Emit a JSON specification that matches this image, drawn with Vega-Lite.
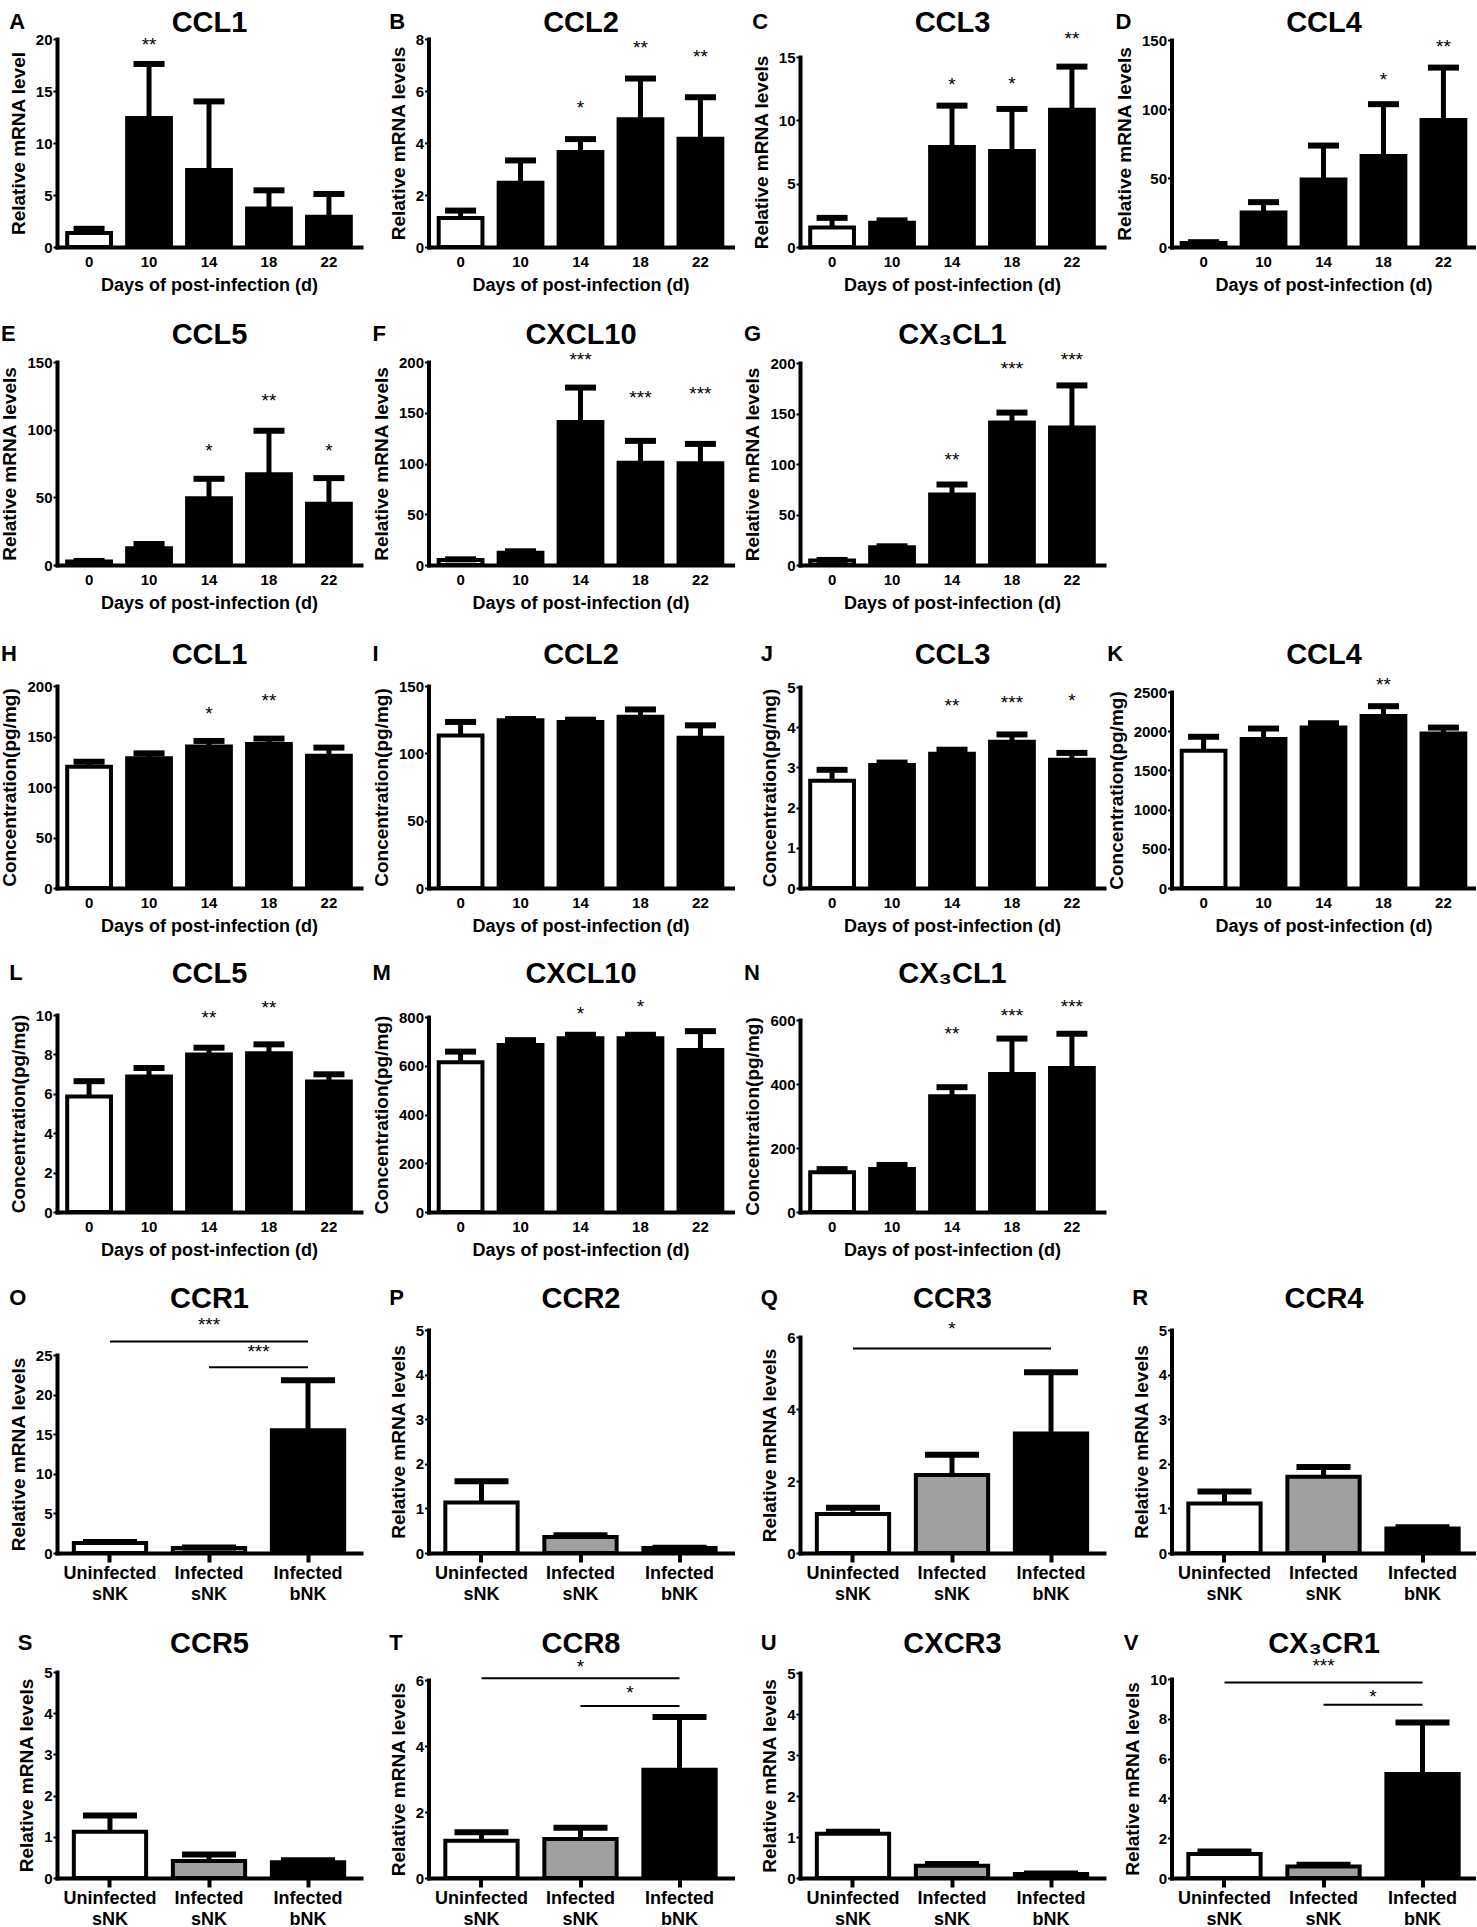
{
  "$schema": "https://vega.github.io/schema/vega-lite/v6.json",
  "background": "white",
  "padding": {"left": 0, "top": 8, "right": 0, "bottom": 0},
  "datasets": {
    "bars": [
      {"p": "A", "x": "0", "v": 1.35, "hi": 1.75, "g": "c"},
      {"p": "A", "x": "10", "v": 12.4, "hi": 17.6, "g": "b", "sig": "**", "sy": 19.45},
      {"p": "A", "x": "14", "v": 7.4, "hi": 14.0, "g": "b"},
      {"p": "A", "x": "18", "v": 3.7, "hi": 5.45, "g": "b"},
      {"p": "A", "x": "22", "v": 2.9, "hi": 5.1, "g": "b"},
      {"p": "B", "x": "0", "v": 1.12, "hi": 1.4, "g": "c"},
      {"p": "B", "x": "10", "v": 2.47, "hi": 3.33, "g": "b"},
      {"p": "B", "x": "14", "v": 3.65, "hi": 4.15, "g": "b", "sig": "*", "sy": 5.34},
      {"p": "B", "x": "18", "v": 4.91, "hi": 6.48, "g": "b", "sig": "**", "sy": 7.65},
      {"p": "B", "x": "22", "v": 4.16, "hi": 5.76, "g": "b", "sig": "**", "sy": 7.3},
      {"p": "C", "x": "0", "v": 1.53, "hi": 2.3, "g": "c"},
      {"p": "C", "x": "10", "v": 1.92, "hi": 2.1, "g": "b"},
      {"p": "C", "x": "14", "v": 7.9, "hi": 11.16, "g": "b", "sig": "*", "sy": 12.76},
      {"p": "C", "x": "18", "v": 7.58, "hi": 10.9, "g": "b", "sig": "*", "sy": 12.9},
      {"p": "C", "x": "22", "v": 10.84, "hi": 14.24, "g": "b", "sig": "**", "sy": 16.45},
      {"p": "D", "x": "0", "v": 2.95, "hi": 3.5, "g": "c"},
      {"p": "D", "x": "10", "v": 25, "hi": 32.5, "g": "b"},
      {"p": "D", "x": "14", "v": 49, "hi": 73.5, "g": "b"},
      {"p": "D", "x": "18", "v": 66, "hi": 103.5, "g": "b", "sig": "*", "sy": 121},
      {"p": "D", "x": "22", "v": 92, "hi": 130, "g": "b", "sig": "**", "sy": 145},
      {"p": "E", "x": "0", "v": 2.5, "hi": 3, "g": "c"},
      {"p": "E", "x": "10", "v": 12.3, "hi": 15.5, "g": "b"},
      {"p": "E", "x": "14", "v": 49.3, "hi": 63.7, "g": "b", "sig": "*", "sy": 84.6},
      {"p": "E", "x": "18", "v": 67.1, "hi": 99.2, "g": "b", "sig": "**", "sy": 120.9},
      {"p": "E", "x": "22", "v": 45.2, "hi": 64.2, "g": "b", "sig": "*", "sy": 84.6},
      {"p": "F", "x": "0", "v": 4.9, "hi": 5.6, "g": "c"},
      {"p": "F", "x": "10", "v": 12, "hi": 13.5, "g": "b"},
      {"p": "F", "x": "14", "v": 140.8, "hi": 174.8, "g": "b", "sig": "***", "sy": 201.6},
      {"p": "F", "x": "18", "v": 100.8, "hi": 122.3, "g": "b", "sig": "***", "sy": 164.9},
      {"p": "F", "x": "22", "v": 100.2, "hi": 119.3, "g": "b", "sig": "***", "sy": 168},
      {"p": "G", "x": "0", "v": 4.4, "hi": 5, "g": "c"},
      {"p": "G", "x": "10", "v": 17.5, "hi": 18.5, "g": "b"},
      {"p": "G", "x": "14", "v": 69.9, "hi": 79.7, "g": "b", "sig": "**", "sy": 103.5},
      {"p": "G", "x": "18", "v": 141.2, "hi": 150.9, "g": "b", "sig": "***", "sy": 194.3},
      {"p": "G", "x": "22", "v": 136.1, "hi": 177.8, "g": "b", "sig": "***", "sy": 203.4},
      {"p": "H", "x": "0", "v": 120, "hi": 125, "g": "c"},
      {"p": "H", "x": "10", "v": 128.4, "hi": 133.3, "g": "b"},
      {"p": "H", "x": "14", "v": 140, "hi": 145.6, "g": "b", "sig": "*", "sy": 171.8},
      {"p": "H", "x": "18", "v": 142.6, "hi": 147.9, "g": "b", "sig": "**", "sy": 185},
      {"p": "H", "x": "22", "v": 131, "hi": 139, "g": "b"},
      {"p": "I", "x": "0", "v": 113.2, "hi": 123.3, "g": "c"},
      {"p": "I", "x": "10", "v": 124.6, "hi": 125.5, "g": "b"},
      {"p": "I", "x": "14", "v": 123.3, "hi": 125, "g": "b"},
      {"p": "I", "x": "18", "v": 127.1, "hi": 132.6, "g": "b"},
      {"p": "I", "x": "22", "v": 111.5, "hi": 120.8, "g": "b"},
      {"p": "J", "x": "0", "v": 2.67, "hi": 2.94, "g": "c"},
      {"p": "J", "x": "10", "v": 3.06, "hi": 3.12, "g": "b"},
      {"p": "J", "x": "14", "v": 3.34, "hi": 3.44, "g": "b", "sig": "**", "sy": 4.53},
      {"p": "J", "x": "18", "v": 3.64, "hi": 3.82, "g": "b", "sig": "***", "sy": 4.59},
      {"p": "J", "x": "22", "v": 3.19, "hi": 3.36, "g": "b", "sig": "*", "sy": 4.65},
      {"p": "K", "x": "0", "v": 1752, "hi": 1929, "g": "c"},
      {"p": "K", "x": "10", "v": 1899, "hi": 2034, "g": "b"},
      {"p": "K", "x": "14", "v": 2046, "hi": 2101, "g": "b"},
      {"p": "K", "x": "18", "v": 2193, "hi": 2319, "g": "b", "sig": "**", "sy": 2584},
      {"p": "K", "x": "22", "v": 1970, "hi": 2046, "g": "b"},
      {"p": "L", "x": "0", "v": 5.86, "hi": 6.64, "g": "c"},
      {"p": "L", "x": "10", "v": 6.88, "hi": 7.31, "g": "b"},
      {"p": "L", "x": "14", "v": 8.0, "hi": 8.34, "g": "b", "sig": "**", "sy": 9.86},
      {"p": "L", "x": "18", "v": 8.06, "hi": 8.51, "g": "b", "sig": "**", "sy": 10.37},
      {"p": "L", "x": "22", "v": 6.62, "hi": 6.99, "g": "b"},
      {"p": "M", "x": "0", "v": 614, "hi": 658, "g": "c"},
      {"p": "M", "x": "10", "v": 685, "hi": 705, "g": "b"},
      {"p": "M", "x": "14", "v": 713, "hi": 727, "g": "b", "sig": "*", "sy": 814},
      {"p": "M", "x": "18", "v": 713, "hi": 727, "g": "b", "sig": "*", "sy": 841},
      {"p": "M", "x": "22", "v": 665, "hi": 742, "g": "b"},
      {"p": "N", "x": "0", "v": 124, "hi": 134, "g": "c"},
      {"p": "N", "x": "10", "v": 134, "hi": 147, "g": "b"},
      {"p": "N", "x": "14", "v": 362, "hi": 390, "g": "b", "sig": "**", "sy": 555},
      {"p": "N", "x": "18", "v": 431, "hi": 542, "g": "b", "sig": "***", "sy": 613},
      {"p": "N", "x": "22", "v": 450, "hi": 557, "g": "b", "sig": "***", "sy": 641},
      {"p": "O", "x": "Uninfected sNK", "v": 1.25, "hi": 1.4, "g": "c"},
      {"p": "O", "x": "Infected sNK", "v": 0.62, "hi": 0.7, "g": "s"},
      {"p": "O", "x": "Infected bNK", "v": 15.5, "hi": 21.8, "g": "b"},
      {"p": "P", "x": "Uninfected sNK", "v": 1.13, "hi": 1.61, "g": "c"},
      {"p": "P", "x": "Infected sNK", "v": 0.36, "hi": 0.4, "g": "s"},
      {"p": "P", "x": "Infected bNK", "v": 0.11, "hi": 0.12, "g": "b"},
      {"p": "Q", "x": "Uninfected sNK", "v": 1.08, "hi": 1.26, "g": "c"},
      {"p": "Q", "x": "Infected sNK", "v": 2.17, "hi": 2.73, "g": "s"},
      {"p": "Q", "x": "Infected bNK", "v": 3.32, "hi": 5.02, "g": "b"},
      {"p": "R", "x": "Uninfected sNK", "v": 1.11, "hi": 1.38, "g": "c"},
      {"p": "R", "x": "Infected sNK", "v": 1.71, "hi": 1.93, "g": "s"},
      {"p": "R", "x": "Infected bNK", "v": 0.55, "hi": 0.58, "g": "b"},
      {"p": "S", "x": "Uninfected sNK", "v": 1.12, "hi": 1.52, "g": "c"},
      {"p": "S", "x": "Infected sNK", "v": 0.41, "hi": 0.57, "g": "s"},
      {"p": "S", "x": "Infected bNK", "v": 0.38, "hi": 0.43, "g": "b"},
      {"p": "T", "x": "Uninfected sNK", "v": 1.13, "hi": 1.39, "g": "c"},
      {"p": "T", "x": "Infected sNK", "v": 1.18, "hi": 1.52, "g": "s"},
      {"p": "T", "x": "Infected bNK", "v": 3.28, "hi": 4.88, "g": "b"},
      {"p": "U", "x": "Uninfected sNK", "v": 1.08, "hi": 1.13, "g": "c"},
      {"p": "U", "x": "Infected sNK", "v": 0.3, "hi": 0.34, "g": "s"},
      {"p": "U", "x": "Infected bNK", "v": 0.1, "hi": 0.11, "g": "b"},
      {"p": "V", "x": "Uninfected sNK", "v": 1.2, "hi": 1.33, "g": "c"},
      {"p": "V", "x": "Infected sNK", "v": 0.58, "hi": 0.66, "g": "s"},
      {"p": "V", "x": "Infected bNK", "v": 5.22, "hi": 7.82, "g": "b"}
    ],
    "cmp": [
      {"p": "O", "from": "Uninfected sNK", "to": "Infected bNK", "ly": 26.7, "sig": "***", "sy": 28.75},
      {"p": "O", "from": "Infected sNK", "to": "Infected bNK", "ly": 23.45, "sig": "***", "sy": 25.4},
      {"p": "Q", "from": "Uninfected sNK", "to": "Infected bNK", "ly": 5.68, "sig": "*", "sy": 6.23},
      {"p": "T", "from": "Uninfected sNK", "to": "Infected bNK", "ly": 6.05, "sig": "*", "sy": 6.4},
      {"p": "T", "from": "Infected sNK", "to": "Infected bNK", "ly": 5.21, "sig": "*", "sy": 5.6},
      {"p": "V", "from": "Uninfected sNK", "to": "Infected bNK", "ly": 9.83, "sig": "***", "sy": 10.67},
      {"p": "V", "from": "Infected sNK", "to": "Infected bNK", "ly": 8.7, "sig": "*", "sy": 9.08}
    ]
  },
  "columns": 4,
  "spacing": {"row": 115, "column": 67.5},
  "bounds": "flush",
  "concat": [
    {
      "title": "A", "width": 304, "height": 208,
      "data": {"name": "bars"}, "transform": [{"filter": "datum.p == 'A'"}],
      "encoding": {
        "x": {"field": "x", "type": "ordinal", "axis": null, "scale": {"domain": ["0", "10", "14", "18", "22"], "paddingInner": 0.27, "paddingOuter": 0.17}},
        "y": {"field": "v", "type": "quantitative", "title": "Relative mRNA level", "scale": {"domain": [0, 20], "range": [208, 0], "nice": false}, "axis": {"values": [0, 5, 10, 15, 20]}}
      },
      "layer": [
        {"mark": {"type": "bar", "stroke": "black", "strokeWidth": 4}, "encoding": {"x": {"field": "x", "type": "ordinal", "axis": {"title": "Days of post-infection (d)"}}, "fill": {"field": "g", "type": "nominal", "scale": {"domain": ["c", "s", "b"], "range": ["#ffffff", "#a0a0a0", "#000000"]}, "legend": null}}},
        {"mark": {"type": "rule", "strokeWidth": 5, "color": "black"}, "encoding": {"x": {"field": "x", "type": "ordinal", "axis": {"orient": "top", "labels": false, "ticks": false, "domain": false, "title": "CCL1", "titleFontSize": 29, "titlePadding": 2}}, "y2": {"field": "hi"}}},
        {"mark": {"type": "tick", "size": 31, "thickness": 6, "color": "black", "opacity": 1}, "encoding": {"y": {"field": "hi", "type": "quantitative", "title": "Relative mRNA level"}}},
        {"transform": [{"filter": "isValid(datum.sig)"}], "mark": {"type": "text", "fontSize": 19}, "encoding": {"y": {"field": "sy", "type": "quantitative", "title": "Relative mRNA level"}, "text": {"field": "sig"}}}
      ],
      "resolve": {"axis": {"x": "independent"}}
    },
    {
      "title": "B", "width": 304, "height": 208,
      "data": {"name": "bars"}, "transform": [{"filter": "datum.p == 'B'"}],
      "encoding": {
        "x": {"field": "x", "type": "ordinal", "axis": null, "scale": {"domain": ["0", "10", "14", "18", "22"], "paddingInner": 0.27, "paddingOuter": 0.17}},
        "y": {"field": "v", "type": "quantitative", "title": "Relative mRNA levels", "scale": {"domain": [0, 8], "range": [208, 0], "nice": false}, "axis": {"values": [0, 2, 4, 6, 8]}}
      },
      "layer": [
        {"mark": {"type": "bar", "stroke": "black", "strokeWidth": 4}, "encoding": {"x": {"field": "x", "type": "ordinal", "axis": {"title": "Days of post-infection (d)"}}, "fill": {"field": "g", "type": "nominal", "scale": {"domain": ["c", "s", "b"], "range": ["#ffffff", "#a0a0a0", "#000000"]}, "legend": null}}},
        {"mark": {"type": "rule", "strokeWidth": 5, "color": "black"}, "encoding": {"x": {"field": "x", "type": "ordinal", "axis": {"orient": "top", "labels": false, "ticks": false, "domain": false, "title": "CCL2", "titleFontSize": 29, "titlePadding": 2}}, "y2": {"field": "hi"}}},
        {"mark": {"type": "tick", "size": 31, "thickness": 6, "color": "black", "opacity": 1}, "encoding": {"y": {"field": "hi", "type": "quantitative", "title": "Relative mRNA levels"}}},
        {"transform": [{"filter": "isValid(datum.sig)"}], "mark": {"type": "text", "fontSize": 19}, "encoding": {"y": {"field": "sy", "type": "quantitative", "title": "Relative mRNA levels"}, "text": {"field": "sig"}}}
      ],
      "resolve": {"axis": {"x": "independent"}}
    },
    {
      "title": "C", "width": 304, "height": 208,
      "data": {"name": "bars"}, "transform": [{"filter": "datum.p == 'C'"}],
      "encoding": {
        "x": {"field": "x", "type": "ordinal", "axis": null, "scale": {"domain": ["0", "10", "14", "18", "22"], "paddingInner": 0.27, "paddingOuter": 0.17}},
        "y": {"field": "v", "type": "quantitative", "title": "Relative mRNA levels", "scale": {"domain": [0, 15], "range": [208, 18], "nice": false}, "axis": {"values": [0, 5, 10, 15]}}
      },
      "layer": [
        {"mark": {"type": "bar", "stroke": "black", "strokeWidth": 4}, "encoding": {"x": {"field": "x", "type": "ordinal", "axis": {"title": "Days of post-infection (d)"}}, "fill": {"field": "g", "type": "nominal", "scale": {"domain": ["c", "s", "b"], "range": ["#ffffff", "#a0a0a0", "#000000"]}, "legend": null}}},
        {"mark": {"type": "rule", "strokeWidth": 5, "color": "black"}, "encoding": {"x": {"field": "x", "type": "ordinal", "axis": {"orient": "top", "labels": false, "ticks": false, "domain": false, "title": "CCL3", "titleFontSize": 29, "titlePadding": 2}}, "y2": {"field": "hi"}}},
        {"mark": {"type": "tick", "size": 31, "thickness": 6, "color": "black", "opacity": 1}, "encoding": {"y": {"field": "hi", "type": "quantitative", "title": "Relative mRNA levels"}}},
        {"transform": [{"filter": "isValid(datum.sig)"}], "mark": {"type": "text", "fontSize": 19}, "encoding": {"y": {"field": "sy", "type": "quantitative", "title": "Relative mRNA levels"}, "text": {"field": "sig"}}}
      ],
      "resolve": {"axis": {"x": "independent"}}
    },
    {
      "title": "D", "width": 304, "height": 208,
      "data": {"name": "bars"}, "transform": [{"filter": "datum.p == 'D'"}],
      "encoding": {
        "x": {"field": "x", "type": "ordinal", "axis": null, "scale": {"domain": ["0", "10", "14", "18", "22"], "paddingInner": 0.27, "paddingOuter": 0.17}},
        "y": {"field": "v", "type": "quantitative", "title": "Relative mRNA levels", "scale": {"domain": [0, 150], "range": [208, 1], "nice": false}, "axis": {"values": [0, 50, 100, 150]}}
      },
      "layer": [
        {"mark": {"type": "bar", "stroke": "black", "strokeWidth": 4}, "encoding": {"x": {"field": "x", "type": "ordinal", "axis": {"title": "Days of post-infection (d)"}}, "fill": {"field": "g", "type": "nominal", "scale": {"domain": ["c", "s", "b"], "range": ["#ffffff", "#a0a0a0", "#000000"]}, "legend": null}}},
        {"mark": {"type": "rule", "strokeWidth": 5, "color": "black"}, "encoding": {"x": {"field": "x", "type": "ordinal", "axis": {"orient": "top", "labels": false, "ticks": false, "domain": false, "title": "CCL4", "titleFontSize": 29, "titlePadding": 2}}, "y2": {"field": "hi"}}},
        {"mark": {"type": "tick", "size": 31, "thickness": 6, "color": "black", "opacity": 1}, "encoding": {"y": {"field": "hi", "type": "quantitative", "title": "Relative mRNA levels"}}},
        {"transform": [{"filter": "isValid(datum.sig)"}], "mark": {"type": "text", "fontSize": 19}, "encoding": {"y": {"field": "sy", "type": "quantitative", "title": "Relative mRNA levels"}, "text": {"field": "sig"}}}
      ],
      "resolve": {"axis": {"x": "independent"}}
    },
    {
      "title": "E", "width": 304, "height": 203,
      "data": {"name": "bars"}, "transform": [{"filter": "datum.p == 'E'"}],
      "encoding": {
        "x": {"field": "x", "type": "ordinal", "axis": null, "scale": {"domain": ["0", "10", "14", "18", "22"], "paddingInner": 0.27, "paddingOuter": 0.17}},
        "y": {"field": "v", "type": "quantitative", "title": "Relative mRNA levels", "scale": {"domain": [0, 150], "range": [203, 0], "nice": false}, "axis": {"values": [0, 50, 100, 150]}}
      },
      "layer": [
        {"mark": {"type": "bar", "stroke": "black", "strokeWidth": 4}, "encoding": {"x": {"field": "x", "type": "ordinal", "axis": {"title": "Days of post-infection (d)"}}, "fill": {"field": "g", "type": "nominal", "scale": {"domain": ["c", "s", "b"], "range": ["#ffffff", "#a0a0a0", "#000000"]}, "legend": null}}},
        {"mark": {"type": "rule", "strokeWidth": 5, "color": "black"}, "encoding": {"x": {"field": "x", "type": "ordinal", "axis": {"orient": "top", "labels": false, "ticks": false, "domain": false, "title": "CCL5", "titleFontSize": 29, "titlePadding": 13}}, "y2": {"field": "hi"}}},
        {"mark": {"type": "tick", "size": 31, "thickness": 6, "color": "black", "opacity": 1}, "encoding": {"y": {"field": "hi", "type": "quantitative", "title": "Relative mRNA levels"}}},
        {"transform": [{"filter": "isValid(datum.sig)"}], "mark": {"type": "text", "fontSize": 19}, "encoding": {"y": {"field": "sy", "type": "quantitative", "title": "Relative mRNA levels"}, "text": {"field": "sig"}}}
      ],
      "resolve": {"axis": {"x": "independent"}}
    },
    {
      "title": "F", "width": 304, "height": 203,
      "data": {"name": "bars"}, "transform": [{"filter": "datum.p == 'F'"}],
      "encoding": {
        "x": {"field": "x", "type": "ordinal", "axis": null, "scale": {"domain": ["0", "10", "14", "18", "22"], "paddingInner": 0.27, "paddingOuter": 0.17}},
        "y": {"field": "v", "type": "quantitative", "title": "Relative mRNA levels", "scale": {"domain": [0, 200], "range": [203, 0], "nice": false}, "axis": {"values": [0, 50, 100, 150, 200]}}
      },
      "layer": [
        {"mark": {"type": "bar", "stroke": "black", "strokeWidth": 4}, "encoding": {"x": {"field": "x", "type": "ordinal", "axis": {"title": "Days of post-infection (d)"}}, "fill": {"field": "g", "type": "nominal", "scale": {"domain": ["c", "s", "b"], "range": ["#ffffff", "#a0a0a0", "#000000"]}, "legend": null}}},
        {"mark": {"type": "rule", "strokeWidth": 5, "color": "black"}, "encoding": {"x": {"field": "x", "type": "ordinal", "axis": {"orient": "top", "labels": false, "ticks": false, "domain": false, "title": "CXCL10", "titleFontSize": 29, "titlePadding": 13}}, "y2": {"field": "hi"}}},
        {"mark": {"type": "tick", "size": 31, "thickness": 6, "color": "black", "opacity": 1}, "encoding": {"y": {"field": "hi", "type": "quantitative", "title": "Relative mRNA levels"}}},
        {"transform": [{"filter": "isValid(datum.sig)"}], "mark": {"type": "text", "fontSize": 19}, "encoding": {"y": {"field": "sy", "type": "quantitative", "title": "Relative mRNA levels"}, "text": {"field": "sig"}}}
      ],
      "resolve": {"axis": {"x": "independent"}}
    },
    {
      "title": "G", "width": 304, "height": 203,
      "data": {"name": "bars"}, "transform": [{"filter": "datum.p == 'G'"}],
      "encoding": {
        "x": {"field": "x", "type": "ordinal", "axis": null, "scale": {"domain": ["0", "10", "14", "18", "22"], "paddingInner": 0.27, "paddingOuter": 0.17}},
        "y": {"field": "v", "type": "quantitative", "title": "Relative mRNA levels", "scale": {"domain": [0, 200], "range": [203, 1], "nice": false}, "axis": {"values": [0, 50, 100, 150, 200]}}
      },
      "layer": [
        {"mark": {"type": "bar", "stroke": "black", "strokeWidth": 4}, "encoding": {"x": {"field": "x", "type": "ordinal", "axis": {"title": "Days of post-infection (d)"}}, "fill": {"field": "g", "type": "nominal", "scale": {"domain": ["c", "s", "b"], "range": ["#ffffff", "#a0a0a0", "#000000"]}, "legend": null}}},
        {"mark": {"type": "rule", "strokeWidth": 5, "color": "black"}, "encoding": {"x": {"field": "x", "type": "ordinal", "axis": {"orient": "top", "labels": false, "ticks": false, "domain": false, "title": "CX₃CL1", "titleFontSize": 29, "titlePadding": 13}}, "y2": {"field": "hi"}}},
        {"mark": {"type": "tick", "size": 31, "thickness": 6, "color": "black", "opacity": 1}, "encoding": {"y": {"field": "hi", "type": "quantitative", "title": "Relative mRNA levels"}}},
        {"transform": [{"filter": "isValid(datum.sig)"}], "mark": {"type": "text", "fontSize": 19}, "encoding": {"y": {"field": "sy", "type": "quantitative", "title": "Relative mRNA levels"}, "text": {"field": "sig"}}}
      ],
      "resolve": {"axis": {"x": "independent"}}
    },
    {"width": 304, "height": 203, "data": {"values": []}, "mark": {"type": "point", "opacity": 0}, "encoding": {}},
    {
      "title": "H", "width": 304, "height": 208,
      "data": {"name": "bars"}, "transform": [{"filter": "datum.p == 'H'"}],
      "encoding": {
        "x": {"field": "x", "type": "ordinal", "axis": null, "scale": {"domain": ["0", "10", "14", "18", "22"], "paddingInner": 0.27, "paddingOuter": 0.17}},
        "y": {"field": "v", "type": "quantitative", "title": "Concentration(pg/mg)", "scale": {"domain": [0, 200], "range": [208, 6], "nice": false}, "axis": {"values": [0, 50, 100, 150, 200]}}
      },
      "layer": [
        {"mark": {"type": "bar", "stroke": "black", "strokeWidth": 4}, "encoding": {"x": {"field": "x", "type": "ordinal", "axis": {"title": "Days of post-infection (d)"}}, "fill": {"field": "g", "type": "nominal", "scale": {"domain": ["c", "s", "b"], "range": ["#ffffff", "#a0a0a0", "#000000"]}, "legend": null}}},
        {"mark": {"type": "rule", "strokeWidth": 5, "color": "black"}, "encoding": {"x": {"field": "x", "type": "ordinal", "axis": {"orient": "top", "labels": false, "ticks": false, "domain": false, "title": "CCL1", "titleFontSize": 29, "titlePadding": 11}}, "y2": {"field": "hi"}}},
        {"mark": {"type": "tick", "size": 31, "thickness": 6, "color": "black", "opacity": 1}, "encoding": {"y": {"field": "hi", "type": "quantitative", "title": "Concentration(pg/mg)"}}},
        {"transform": [{"filter": "isValid(datum.sig)"}], "mark": {"type": "text", "fontSize": 19}, "encoding": {"y": {"field": "sy", "type": "quantitative", "title": "Concentration(pg/mg)"}, "text": {"field": "sig"}}}
      ],
      "resolve": {"axis": {"x": "independent"}}
    },
    {
      "title": "I", "width": 304, "height": 208,
      "data": {"name": "bars"}, "transform": [{"filter": "datum.p == 'I'"}],
      "encoding": {
        "x": {"field": "x", "type": "ordinal", "axis": null, "scale": {"domain": ["0", "10", "14", "18", "22"], "paddingInner": 0.27, "paddingOuter": 0.17}},
        "y": {"field": "v", "type": "quantitative", "title": "Concentration(pg/mg)", "scale": {"domain": [0, 150], "range": [208, 6], "nice": false}, "axis": {"values": [0, 50, 100, 150]}}
      },
      "layer": [
        {"mark": {"type": "bar", "stroke": "black", "strokeWidth": 4}, "encoding": {"x": {"field": "x", "type": "ordinal", "axis": {"title": "Days of post-infection (d)"}}, "fill": {"field": "g", "type": "nominal", "scale": {"domain": ["c", "s", "b"], "range": ["#ffffff", "#a0a0a0", "#000000"]}, "legend": null}}},
        {"mark": {"type": "rule", "strokeWidth": 5, "color": "black"}, "encoding": {"x": {"field": "x", "type": "ordinal", "axis": {"orient": "top", "labels": false, "ticks": false, "domain": false, "title": "CCL2", "titleFontSize": 29, "titlePadding": 11}}, "y2": {"field": "hi"}}},
        {"mark": {"type": "tick", "size": 31, "thickness": 6, "color": "black", "opacity": 1}, "encoding": {"y": {"field": "hi", "type": "quantitative", "title": "Concentration(pg/mg)"}}}
      ],
      "resolve": {"axis": {"x": "independent"}}
    },
    {
      "title": "J", "width": 304, "height": 208,
      "data": {"name": "bars"}, "transform": [{"filter": "datum.p == 'J'"}],
      "encoding": {
        "x": {"field": "x", "type": "ordinal", "axis": null, "scale": {"domain": ["0", "10", "14", "18", "22"], "paddingInner": 0.27, "paddingOuter": 0.17}},
        "y": {"field": "v", "type": "quantitative", "title": "Concentration(pg/mg)", "scale": {"domain": [0, 5], "range": [208, 7], "nice": false}, "axis": {"values": [0, 1, 2, 3, 4, 5]}}
      },
      "layer": [
        {"mark": {"type": "bar", "stroke": "black", "strokeWidth": 4}, "encoding": {"x": {"field": "x", "type": "ordinal", "axis": {"title": "Days of post-infection (d)"}}, "fill": {"field": "g", "type": "nominal", "scale": {"domain": ["c", "s", "b"], "range": ["#ffffff", "#a0a0a0", "#000000"]}, "legend": null}}},
        {"mark": {"type": "rule", "strokeWidth": 5, "color": "black"}, "encoding": {"x": {"field": "x", "type": "ordinal", "axis": {"orient": "top", "labels": false, "ticks": false, "domain": false, "title": "CCL3", "titleFontSize": 29, "titlePadding": 11}}, "y2": {"field": "hi"}}},
        {"mark": {"type": "tick", "size": 31, "thickness": 6, "color": "black", "opacity": 1}, "encoding": {"y": {"field": "hi", "type": "quantitative", "title": "Concentration(pg/mg)"}}},
        {"transform": [{"filter": "isValid(datum.sig)"}], "mark": {"type": "text", "fontSize": 19}, "encoding": {"y": {"field": "sy", "type": "quantitative", "title": "Concentration(pg/mg)"}, "text": {"field": "sig"}}}
      ],
      "resolve": {"axis": {"x": "independent"}}
    },
    {
      "title": "K", "width": 304, "height": 208,
      "data": {"name": "bars"}, "transform": [{"filter": "datum.p == 'K'"}],
      "encoding": {
        "x": {"field": "x", "type": "ordinal", "axis": null, "scale": {"domain": ["0", "10", "14", "18", "22"], "paddingInner": 0.27, "paddingOuter": 0.17}},
        "y": {"field": "v", "type": "quantitative", "title": "Concentration(pg/mg)", "scale": {"domain": [0, 2500], "range": [208, 12], "nice": false}, "axis": {"values": [0, 500, 1000, 1500, 2000, 2500], "format": "d"}}
      },
      "layer": [
        {"mark": {"type": "bar", "stroke": "black", "strokeWidth": 4}, "encoding": {"x": {"field": "x", "type": "ordinal", "axis": {"title": "Days of post-infection (d)"}}, "fill": {"field": "g", "type": "nominal", "scale": {"domain": ["c", "s", "b"], "range": ["#ffffff", "#a0a0a0", "#000000"]}, "legend": null}}},
        {"mark": {"type": "rule", "strokeWidth": 5, "color": "black"}, "encoding": {"x": {"field": "x", "type": "ordinal", "axis": {"orient": "top", "labels": false, "ticks": false, "domain": false, "title": "CCL4", "titleFontSize": 29, "titlePadding": 11}}, "y2": {"field": "hi"}}},
        {"mark": {"type": "tick", "size": 31, "thickness": 6, "color": "black", "opacity": 1}, "encoding": {"y": {"field": "hi", "type": "quantitative", "title": "Concentration(pg/mg)"}}},
        {"transform": [{"filter": "isValid(datum.sig)"}], "mark": {"type": "text", "fontSize": 19}, "encoding": {"y": {"field": "sy", "type": "quantitative", "title": "Concentration(pg/mg)"}, "text": {"field": "sig"}}}
      ],
      "resolve": {"axis": {"x": "independent"}}
    },
    {
      "title": "L", "width": 304, "height": 209,
      "data": {"name": "bars"}, "transform": [{"filter": "datum.p == 'L'"}],
      "encoding": {
        "x": {"field": "x", "type": "ordinal", "axis": null, "scale": {"domain": ["0", "10", "14", "18", "22"], "paddingInner": 0.27, "paddingOuter": 0.17}},
        "y": {"field": "v", "type": "quantitative", "title": "Concentration(pg/mg)", "scale": {"domain": [0, 10], "range": [209, 12], "nice": false}, "axis": {"values": [0, 2, 4, 6, 8, 10]}}
      },
      "layer": [
        {"mark": {"type": "bar", "stroke": "black", "strokeWidth": 4}, "encoding": {"x": {"field": "x", "type": "ordinal", "axis": {"title": "Days of post-infection (d)"}}, "fill": {"field": "g", "type": "nominal", "scale": {"domain": ["c", "s", "b"], "range": ["#ffffff", "#a0a0a0", "#000000"]}, "legend": null}}},
        {"mark": {"type": "rule", "strokeWidth": 5, "color": "black"}, "encoding": {"x": {"field": "x", "type": "ordinal", "axis": {"orient": "top", "labels": false, "ticks": false, "domain": false, "title": "CCL5", "titleFontSize": 29, "titlePadding": 15}}, "y2": {"field": "hi"}}},
        {"mark": {"type": "tick", "size": 31, "thickness": 6, "color": "black", "opacity": 1}, "encoding": {"y": {"field": "hi", "type": "quantitative", "title": "Concentration(pg/mg)"}}},
        {"transform": [{"filter": "isValid(datum.sig)"}], "mark": {"type": "text", "fontSize": 19}, "encoding": {"y": {"field": "sy", "type": "quantitative", "title": "Concentration(pg/mg)"}, "text": {"field": "sig"}}}
      ],
      "resolve": {"axis": {"x": "independent"}}
    },
    {
      "title": "M", "width": 304, "height": 209,
      "data": {"name": "bars"}, "transform": [{"filter": "datum.p == 'M'"}],
      "encoding": {
        "x": {"field": "x", "type": "ordinal", "axis": null, "scale": {"domain": ["0", "10", "14", "18", "22"], "paddingInner": 0.27, "paddingOuter": 0.17}},
        "y": {"field": "v", "type": "quantitative", "title": "Concentration(pg/mg)", "scale": {"domain": [0, 800], "range": [209, 14], "nice": false}, "axis": {"values": [0, 200, 400, 600, 800]}}
      },
      "layer": [
        {"mark": {"type": "bar", "stroke": "black", "strokeWidth": 4}, "encoding": {"x": {"field": "x", "type": "ordinal", "axis": {"title": "Days of post-infection (d)"}}, "fill": {"field": "g", "type": "nominal", "scale": {"domain": ["c", "s", "b"], "range": ["#ffffff", "#a0a0a0", "#000000"]}, "legend": null}}},
        {"mark": {"type": "rule", "strokeWidth": 5, "color": "black"}, "encoding": {"x": {"field": "x", "type": "ordinal", "axis": {"orient": "top", "labels": false, "ticks": false, "domain": false, "title": "CXCL10", "titleFontSize": 29, "titlePadding": 15}}, "y2": {"field": "hi"}}},
        {"mark": {"type": "tick", "size": 31, "thickness": 6, "color": "black", "opacity": 1}, "encoding": {"y": {"field": "hi", "type": "quantitative", "title": "Concentration(pg/mg)"}}},
        {"transform": [{"filter": "isValid(datum.sig)"}], "mark": {"type": "text", "fontSize": 19}, "encoding": {"y": {"field": "sy", "type": "quantitative", "title": "Concentration(pg/mg)"}, "text": {"field": "sig"}}}
      ],
      "resolve": {"axis": {"x": "independent"}}
    },
    {
      "title": "N", "width": 304, "height": 209,
      "data": {"name": "bars"}, "transform": [{"filter": "datum.p == 'N'"}],
      "encoding": {
        "x": {"field": "x", "type": "ordinal", "axis": null, "scale": {"domain": ["0", "10", "14", "18", "22"], "paddingInner": 0.27, "paddingOuter": 0.17}},
        "y": {"field": "v", "type": "quantitative", "title": "Concentration(pg/mg)", "scale": {"domain": [0, 600], "range": [209, 17], "nice": false}, "axis": {"values": [0, 200, 400, 600]}}
      },
      "layer": [
        {"mark": {"type": "bar", "stroke": "black", "strokeWidth": 4}, "encoding": {"x": {"field": "x", "type": "ordinal", "axis": {"title": "Days of post-infection (d)"}}, "fill": {"field": "g", "type": "nominal", "scale": {"domain": ["c", "s", "b"], "range": ["#ffffff", "#a0a0a0", "#000000"]}, "legend": null}}},
        {"mark": {"type": "rule", "strokeWidth": 5, "color": "black"}, "encoding": {"x": {"field": "x", "type": "ordinal", "axis": {"orient": "top", "labels": false, "ticks": false, "domain": false, "title": "CX₃CL1", "titleFontSize": 29, "titlePadding": 15}}, "y2": {"field": "hi"}}},
        {"mark": {"type": "tick", "size": 31, "thickness": 6, "color": "black", "opacity": 1}, "encoding": {"y": {"field": "hi", "type": "quantitative", "title": "Concentration(pg/mg)"}}},
        {"transform": [{"filter": "isValid(datum.sig)"}], "mark": {"type": "text", "fontSize": 19}, "encoding": {"y": {"field": "sy", "type": "quantitative", "title": "Concentration(pg/mg)"}, "text": {"field": "sig"}}}
      ],
      "resolve": {"axis": {"x": "independent"}}
    },
    {"width": 304, "height": 209, "data": {"values": []}, "mark": {"type": "point", "opacity": 0}, "encoding": {}},
    {
      "title": "O", "width": 304, "height": 226,
      "data": {"name": "bars"}, "transform": [{"filter": "datum.p == 'O'"}],
      "encoding": {
        "x": {"field": "x", "type": "ordinal", "axis": null, "scale": {"domain": ["Uninfected sNK", "Infected sNK", "Infected bNK"], "paddingInner": 0.27, "paddingOuter": 0.17}},
        "y": {"field": "v", "type": "quantitative", "title": "Relative mRNA levels", "scale": {"domain": [0, 25], "range": [226, 28], "nice": false}, "axis": {"values": [0, 5, 10, 15, 20, 25]}}
      },
      "layer": [
        {"mark": {"type": "bar", "stroke": "black", "strokeWidth": 4}, "encoding": {"x": {"field": "x", "type": "ordinal", "axis": {"title": null, "ticks": true, "tickSize": 9, "tickWidth": 4, "labelFontSize": 18, "labelPadding": 2, "labelLineHeight": 21, "labelExpr": "split(datum.label, ' ')"}}, "fill": {"field": "g", "type": "nominal", "scale": {"domain": ["c", "s", "b"], "range": ["#ffffff", "#a0a0a0", "#000000"]}, "legend": null}}},
        {"mark": {"type": "rule", "strokeWidth": 5, "color": "black"}, "encoding": {"x": {"field": "x", "type": "ordinal", "axis": {"orient": "top", "labels": false, "ticks": false, "domain": false, "title": "CCR1", "titleFontSize": 29, "titlePadding": 14}}, "y2": {"field": "hi"}}},
        {"mark": {"type": "tick", "size": 54, "thickness": 6, "color": "black", "opacity": 1}, "encoding": {"y": {"field": "hi", "type": "quantitative", "title": "Relative mRNA levels"}}},
        {
          "data": {"name": "cmp"}, "transform": [{"filter": "datum.p == 'O'"}],
          "layer": [
            {"mark": {"type": "rule", "strokeWidth": 2, "color": "black"}, "encoding": {"x": {"field": "from", "type": "ordinal", "axis": null}, "x2": {"field": "to"}, "y": {"field": "ly", "type": "quantitative", "title": "Relative mRNA levels"}}},
            {"transform": [{"filter": "datum.from == 'Uninfected sNK'"}], "mark": {"type": "text", "fontSize": 19}, "encoding": {"x": {"datum": "Infected sNK", "type": "ordinal", "axis": null}, "y": {"field": "sy", "type": "quantitative", "title": "Relative mRNA levels"}, "text": {"field": "sig"}}},
            {"transform": [{"filter": "datum.from == 'Infected sNK'"}], "mark": {"type": "text", "fontSize": 19}, "encoding": {"x": {"datum": "Infected sNK", "type": "ordinal", "axis": null, "bandPosition": 1.185}, "y": {"field": "sy", "type": "quantitative", "title": "Relative mRNA levels"}, "text": {"field": "sig"}}}
          ]
        }
      ],
      "resolve": {"axis": {"x": "independent"}}
    },
    {
      "title": "P", "width": 304, "height": 226,
      "data": {"name": "bars"}, "transform": [{"filter": "datum.p == 'P'"}],
      "encoding": {
        "x": {"field": "x", "type": "ordinal", "axis": null, "scale": {"domain": ["Uninfected sNK", "Infected sNK", "Infected bNK"], "paddingInner": 0.27, "paddingOuter": 0.17}},
        "y": {"field": "v", "type": "quantitative", "title": "Relative mRNA levels", "scale": {"domain": [0, 5], "range": [226, 3], "nice": false}, "axis": {"values": [0, 1, 2, 3, 4, 5]}}
      },
      "layer": [
        {"mark": {"type": "bar", "stroke": "black", "strokeWidth": 4}, "encoding": {"x": {"field": "x", "type": "ordinal", "axis": {"title": null, "ticks": true, "tickSize": 9, "tickWidth": 4, "labelFontSize": 18, "labelPadding": 2, "labelLineHeight": 21, "labelExpr": "split(datum.label, ' ')"}}, "fill": {"field": "g", "type": "nominal", "scale": {"domain": ["c", "s", "b"], "range": ["#ffffff", "#a0a0a0", "#000000"]}, "legend": null}}},
        {"mark": {"type": "rule", "strokeWidth": 5, "color": "black"}, "encoding": {"x": {"field": "x", "type": "ordinal", "axis": {"orient": "top", "labels": false, "ticks": false, "domain": false, "title": "CCR2", "titleFontSize": 29, "titlePadding": 14}}, "y2": {"field": "hi"}}},
        {"mark": {"type": "tick", "size": 54, "thickness": 6, "color": "black", "opacity": 1}, "encoding": {"y": {"field": "hi", "type": "quantitative", "title": "Relative mRNA levels"}}}
      ],
      "resolve": {"axis": {"x": "independent"}}
    },
    {
      "title": "Q", "width": 304, "height": 226,
      "data": {"name": "bars"}, "transform": [{"filter": "datum.p == 'Q'"}],
      "encoding": {
        "x": {"field": "x", "type": "ordinal", "axis": null, "scale": {"domain": ["Uninfected sNK", "Infected sNK", "Infected bNK"], "paddingInner": 0.27, "paddingOuter": 0.17}},
        "y": {"field": "v", "type": "quantitative", "title": "Relative mRNA levels", "scale": {"domain": [0, 6], "range": [226, 10], "nice": false}, "axis": {"values": [0, 2, 4, 6]}}
      },
      "layer": [
        {"mark": {"type": "bar", "stroke": "black", "strokeWidth": 4}, "encoding": {"x": {"field": "x", "type": "ordinal", "axis": {"title": null, "ticks": true, "tickSize": 9, "tickWidth": 4, "labelFontSize": 18, "labelPadding": 2, "labelLineHeight": 21, "labelExpr": "split(datum.label, ' ')"}}, "fill": {"field": "g", "type": "nominal", "scale": {"domain": ["c", "s", "b"], "range": ["#ffffff", "#a0a0a0", "#000000"]}, "legend": null}}},
        {"mark": {"type": "rule", "strokeWidth": 5, "color": "black"}, "encoding": {"x": {"field": "x", "type": "ordinal", "axis": {"orient": "top", "labels": false, "ticks": false, "domain": false, "title": "CCR3", "titleFontSize": 29, "titlePadding": 14}}, "y2": {"field": "hi"}}},
        {"mark": {"type": "tick", "size": 54, "thickness": 6, "color": "black", "opacity": 1}, "encoding": {"y": {"field": "hi", "type": "quantitative", "title": "Relative mRNA levels"}}},
        {
          "data": {"name": "cmp"}, "transform": [{"filter": "datum.p == 'Q'"}],
          "layer": [
            {"mark": {"type": "rule", "strokeWidth": 2, "color": "black"}, "encoding": {"x": {"field": "from", "type": "ordinal", "axis": null}, "x2": {"field": "to"}, "y": {"field": "ly", "type": "quantitative", "title": "Relative mRNA levels"}}},
            {"transform": [{"filter": "datum.from == 'Uninfected sNK'"}], "mark": {"type": "text", "fontSize": 19}, "encoding": {"x": {"datum": "Infected sNK", "type": "ordinal", "axis": null}, "y": {"field": "sy", "type": "quantitative", "title": "Relative mRNA levels"}, "text": {"field": "sig"}}}
          ]
        }
      ],
      "resolve": {"axis": {"x": "independent"}}
    },
    {
      "title": "R", "width": 304, "height": 226,
      "data": {"name": "bars"}, "transform": [{"filter": "datum.p == 'R'"}],
      "encoding": {
        "x": {"field": "x", "type": "ordinal", "axis": null, "scale": {"domain": ["Uninfected sNK", "Infected sNK", "Infected bNK"], "paddingInner": 0.27, "paddingOuter": 0.17}},
        "y": {"field": "v", "type": "quantitative", "title": "Relative mRNA levels", "scale": {"domain": [0, 5], "range": [226, 3], "nice": false}, "axis": {"values": [0, 1, 2, 3, 4, 5]}}
      },
      "layer": [
        {"mark": {"type": "bar", "stroke": "black", "strokeWidth": 4}, "encoding": {"x": {"field": "x", "type": "ordinal", "axis": {"title": null, "ticks": true, "tickSize": 9, "tickWidth": 4, "labelFontSize": 18, "labelPadding": 2, "labelLineHeight": 21, "labelExpr": "split(datum.label, ' ')"}}, "fill": {"field": "g", "type": "nominal", "scale": {"domain": ["c", "s", "b"], "range": ["#ffffff", "#a0a0a0", "#000000"]}, "legend": null}}},
        {"mark": {"type": "rule", "strokeWidth": 5, "color": "black"}, "encoding": {"x": {"field": "x", "type": "ordinal", "axis": {"orient": "top", "labels": false, "ticks": false, "domain": false, "title": "CCR4", "titleFontSize": 29, "titlePadding": 14}}, "y2": {"field": "hi"}}},
        {"mark": {"type": "tick", "size": 54, "thickness": 6, "color": "black", "opacity": 1}, "encoding": {"y": {"field": "hi", "type": "quantitative", "title": "Relative mRNA levels"}}}
      ],
      "resolve": {"axis": {"x": "independent"}}
    },
    {
      "title": "S", "width": 304, "height": 210,
      "data": {"name": "bars"}, "transform": [{"filter": "datum.p == 'S'"}],
      "encoding": {
        "x": {"field": "x", "type": "ordinal", "axis": null, "scale": {"domain": ["Uninfected sNK", "Infected sNK", "Infected bNK"], "paddingInner": 0.27, "paddingOuter": 0.17}},
        "y": {"field": "v", "type": "quantitative", "title": "Relative mRNA levels", "scale": {"domain": [0, 5], "range": [210, 4], "nice": false}, "axis": {"values": [0, 1, 2, 3, 4, 5]}}
      },
      "layer": [
        {"mark": {"type": "bar", "stroke": "black", "strokeWidth": 4}, "encoding": {"x": {"field": "x", "type": "ordinal", "axis": {"title": null, "ticks": true, "tickSize": 9, "tickWidth": 4, "labelFontSize": 18, "labelPadding": 2, "labelLineHeight": 21, "labelExpr": "split(datum.label, ' ')"}}, "fill": {"field": "g", "type": "nominal", "scale": {"domain": ["c", "s", "b"], "range": ["#ffffff", "#a0a0a0", "#000000"]}, "legend": null}}},
        {"mark": {"type": "rule", "strokeWidth": 5, "color": "black"}, "encoding": {"x": {"field": "x", "type": "ordinal", "axis": {"orient": "top", "labels": false, "ticks": false, "domain": false, "title": "CCR5", "titleFontSize": 29, "titlePadding": 10}}, "y2": {"field": "hi"}}},
        {"mark": {"type": "tick", "size": 54, "thickness": 6, "color": "black", "opacity": 1}, "encoding": {"y": {"field": "hi", "type": "quantitative", "title": "Relative mRNA levels"}}}
      ],
      "resolve": {"axis": {"x": "independent"}}
    },
    {
      "title": "T", "width": 304, "height": 210,
      "data": {"name": "bars"}, "transform": [{"filter": "datum.p == 'T'"}],
      "encoding": {
        "x": {"field": "x", "type": "ordinal", "axis": null, "scale": {"domain": ["Uninfected sNK", "Infected sNK", "Infected bNK"], "paddingInner": 0.27, "paddingOuter": 0.17}},
        "y": {"field": "v", "type": "quantitative", "title": "Relative mRNA levels", "scale": {"domain": [0, 6], "range": [210, 12], "nice": false}, "axis": {"values": [0, 2, 4, 6]}}
      },
      "layer": [
        {"mark": {"type": "bar", "stroke": "black", "strokeWidth": 4}, "encoding": {"x": {"field": "x", "type": "ordinal", "axis": {"title": null, "ticks": true, "tickSize": 9, "tickWidth": 4, "labelFontSize": 18, "labelPadding": 2, "labelLineHeight": 21, "labelExpr": "split(datum.label, ' ')"}}, "fill": {"field": "g", "type": "nominal", "scale": {"domain": ["c", "s", "b"], "range": ["#ffffff", "#a0a0a0", "#000000"]}, "legend": null}}},
        {"mark": {"type": "rule", "strokeWidth": 5, "color": "black"}, "encoding": {"x": {"field": "x", "type": "ordinal", "axis": {"orient": "top", "labels": false, "ticks": false, "domain": false, "title": "CCR8", "titleFontSize": 29, "titlePadding": 10}}, "y2": {"field": "hi"}}},
        {"mark": {"type": "tick", "size": 54, "thickness": 6, "color": "black", "opacity": 1}, "encoding": {"y": {"field": "hi", "type": "quantitative", "title": "Relative mRNA levels"}}},
        {
          "data": {"name": "cmp"}, "transform": [{"filter": "datum.p == 'T'"}],
          "layer": [
            {"mark": {"type": "rule", "strokeWidth": 2, "color": "black"}, "encoding": {"x": {"field": "from", "type": "ordinal", "axis": null}, "x2": {"field": "to"}, "y": {"field": "ly", "type": "quantitative", "title": "Relative mRNA levels"}}},
            {"transform": [{"filter": "datum.from == 'Uninfected sNK'"}], "mark": {"type": "text", "fontSize": 19}, "encoding": {"x": {"datum": "Infected sNK", "type": "ordinal", "axis": null}, "y": {"field": "sy", "type": "quantitative", "title": "Relative mRNA levels"}, "text": {"field": "sig"}}},
            {"transform": [{"filter": "datum.from == 'Infected sNK'"}], "mark": {"type": "text", "fontSize": 19}, "encoding": {"x": {"datum": "Infected sNK", "type": "ordinal", "axis": null, "bandPosition": 1.185}, "y": {"field": "sy", "type": "quantitative", "title": "Relative mRNA levels"}, "text": {"field": "sig"}}}
          ]
        }
      ],
      "resolve": {"axis": {"x": "independent"}}
    },
    {
      "title": "U", "width": 304, "height": 210,
      "data": {"name": "bars"}, "transform": [{"filter": "datum.p == 'U'"}],
      "encoding": {
        "x": {"field": "x", "type": "ordinal", "axis": null, "scale": {"domain": ["Uninfected sNK", "Infected sNK", "Infected bNK"], "paddingInner": 0.27, "paddingOuter": 0.17}},
        "y": {"field": "v", "type": "quantitative", "title": "Relative mRNA levels", "scale": {"domain": [0, 5], "range": [210, 5], "nice": false}, "axis": {"values": [0, 1, 2, 3, 4, 5]}}
      },
      "layer": [
        {"mark": {"type": "bar", "stroke": "black", "strokeWidth": 4}, "encoding": {"x": {"field": "x", "type": "ordinal", "axis": {"title": null, "ticks": true, "tickSize": 9, "tickWidth": 4, "labelFontSize": 18, "labelPadding": 2, "labelLineHeight": 21, "labelExpr": "split(datum.label, ' ')"}}, "fill": {"field": "g", "type": "nominal", "scale": {"domain": ["c", "s", "b"], "range": ["#ffffff", "#a0a0a0", "#000000"]}, "legend": null}}},
        {"mark": {"type": "rule", "strokeWidth": 5, "color": "black"}, "encoding": {"x": {"field": "x", "type": "ordinal", "axis": {"orient": "top", "labels": false, "ticks": false, "domain": false, "title": "CXCR3", "titleFontSize": 29, "titlePadding": 10}}, "y2": {"field": "hi"}}},
        {"mark": {"type": "tick", "size": 54, "thickness": 6, "color": "black", "opacity": 1}, "encoding": {"y": {"field": "hi", "type": "quantitative", "title": "Relative mRNA levels"}}}
      ],
      "resolve": {"axis": {"x": "independent"}}
    },
    {
      "title": "V", "width": 304, "height": 210,
      "data": {"name": "bars"}, "transform": [{"filter": "datum.p == 'V'"}],
      "encoding": {
        "x": {"field": "x", "type": "ordinal", "axis": null, "scale": {"domain": ["Uninfected sNK", "Infected sNK", "Infected bNK"], "paddingInner": 0.27, "paddingOuter": 0.17}},
        "y": {"field": "v", "type": "quantitative", "title": "Relative mRNA levels", "scale": {"domain": [0, 10], "range": [210, 11], "nice": false}, "axis": {"values": [0, 2, 4, 6, 8, 10]}}
      },
      "layer": [
        {"mark": {"type": "bar", "stroke": "black", "strokeWidth": 4}, "encoding": {"x": {"field": "x", "type": "ordinal", "axis": {"title": null, "ticks": true, "tickSize": 9, "tickWidth": 4, "labelFontSize": 18, "labelPadding": 2, "labelLineHeight": 21, "labelExpr": "split(datum.label, ' ')"}}, "fill": {"field": "g", "type": "nominal", "scale": {"domain": ["c", "s", "b"], "range": ["#ffffff", "#a0a0a0", "#000000"]}, "legend": null}}},
        {"mark": {"type": "rule", "strokeWidth": 5, "color": "black"}, "encoding": {"x": {"field": "x", "type": "ordinal", "axis": {"orient": "top", "labels": false, "ticks": false, "domain": false, "title": "CX₃CR1", "titleFontSize": 29, "titlePadding": 10}}, "y2": {"field": "hi"}}},
        {"mark": {"type": "tick", "size": 54, "thickness": 6, "color": "black", "opacity": 1}, "encoding": {"y": {"field": "hi", "type": "quantitative", "title": "Relative mRNA levels"}}},
        {
          "data": {"name": "cmp"}, "transform": [{"filter": "datum.p == 'V'"}],
          "layer": [
            {"mark": {"type": "rule", "strokeWidth": 2, "color": "black"}, "encoding": {"x": {"field": "from", "type": "ordinal", "axis": null}, "x2": {"field": "to"}, "y": {"field": "ly", "type": "quantitative", "title": "Relative mRNA levels"}}},
            {"transform": [{"filter": "datum.from == 'Uninfected sNK'"}], "mark": {"type": "text", "fontSize": 19}, "encoding": {"x": {"datum": "Infected sNK", "type": "ordinal", "axis": null}, "y": {"field": "sy", "type": "quantitative", "title": "Relative mRNA levels"}, "text": {"field": "sig"}}},
            {"transform": [{"filter": "datum.from == 'Infected sNK'"}], "mark": {"type": "text", "fontSize": 19}, "encoding": {"x": {"datum": "Infected sNK", "type": "ordinal", "axis": null, "bandPosition": 1.185}, "y": {"field": "sy", "type": "quantitative", "title": "Relative mRNA levels"}, "text": {"field": "sig"}}}
          ]
        }
      ],
      "resolve": {"axis": {"x": "independent"}}
    }
  ],
  "config": {
    "font": "Liberation Sans",
    "view": {"stroke": null},
    "axis": {
      "grid": false,
      "domainColor": "black",
      "domainWidth": 4,
      "domainCap": "square",
      "tickColor": "black",
      "labelColor": "black",
      "titleColor": "black",
      "labelFont": "Liberation Sans",
      "titleFont": "Liberation Sans",
      "labelFontWeight": "bold",
      "titleFontWeight": "bold",
      "labelFontSize": 15,
      "titleFontSize": 19
    },
    "axisY": {"tickSize": 4, "tickWidth": 2, "labelPadding": 1, "titlePadding": 7, "minExtent": 0},
    "axisX": {"ticks": false, "tickSize": 0, "labelAngle": 0, "labelPadding": 7, "titlePadding": 7, "titleFontSize": 18},
    "title": {
      "font": "Liberation Sans",
      "fontSize": 22,
      "fontWeight": "bold",
      "color": "black",
      "anchor": "start",
      "frame": "bounds",
      "offset": -26
    },
    "text": {"font": "Liberation Sans", "color": "black"}
  }
}
